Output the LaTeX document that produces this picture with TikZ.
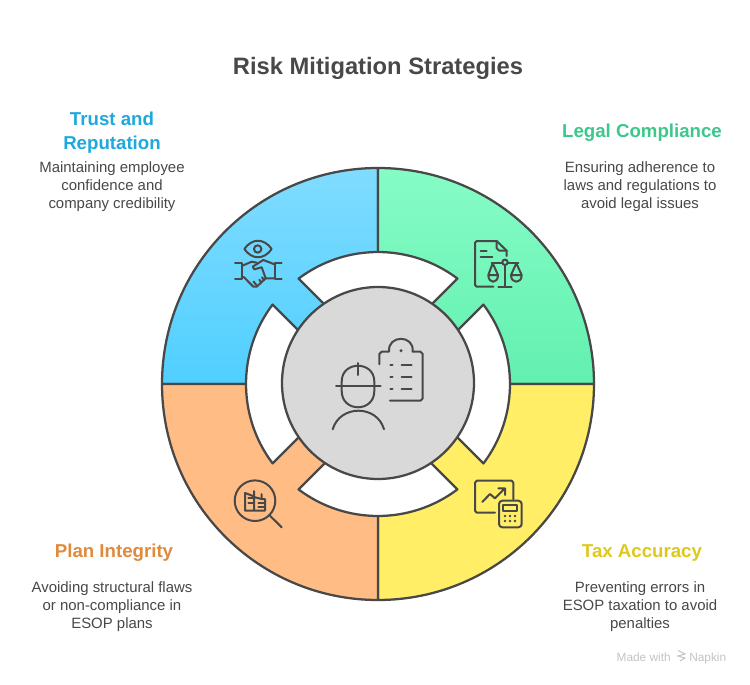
\documentclass[tikz,border=0pt]{standalone}
\usepackage{fontspec}
\setmainfont{Liberation Sans}
\usepackage{tikz}
\definecolor{inkgrey}{RGB}{72,72,72}
\definecolor{hubgrey}{RGB}{217,217,217}
\definecolor{footgrey}{RGB}{196,196,196}
\definecolor{blueA}{RGB}{128,220,255}
\definecolor{blueB}{RGB}{80,207,255}
\definecolor{greenA}{RGB}{134,252,198}
\definecolor{greenB}{RGB}{98,240,176}
\definecolor{orangeA}{RGB}{255,189,133}
\definecolor{yellowA}{RGB}{255,238,102}
\definecolor{trustblue}{RGB}{30,168,222}
\definecolor{legalgreen}{RGB}{60,200,138}
\definecolor{planorange}{RGB}{224,138,60}
\definecolor{taxyellow}{RGB}{222,200,28}
\tikzset{
  ring/.style={draw=inkgrey,line width=1.7pt,line join=round},
  icon/.style={draw=inkgrey,line width=1.5pt,line cap=round,line join=round},
  headline/.style={inner sep=0pt,align=center,font=\fontsize{14}{18}\selectfont\bfseries},
  bodytext/.style={inner sep=0pt,align=center,text=inkgrey,font=\fontsize{11.2}{13.5}\selectfont},
  footer/.style={inner sep=0pt,text=footgrey,font=\fontsize{8.9}{10}\selectfont},
}

\begin{document}
\begin{tikzpicture}[x=0.75pt,y=0.75pt,yscale=-1,xscale=1]
        \useasboundingbox (0,0) rectangle (750,685);
        \fill [white] (0,0) rectangle (750,685);
        % quadrants
        \draw [ring,top color=blueA,middle color=blueA,bottom color=blueB] (378,384) -- (162,384) arc [start angle=180,end angle=270,radius=216] -- cycle;
        \draw [ring,top color=greenA,middle color=greenA,bottom color=greenB] (378,384) -- (378,168) arc [start angle=270,end angle=360,radius=216] -- cycle;
        \draw [ring,fill=yellowA] (378,384) -- (594,384) arc [start angle=0,end angle=90,radius=216] -- cycle;
        \draw [ring,fill=orangeA] (378,384) -- (378,600) arc [start angle=90,end angle=180,radius=216] -- cycle;
        % white bands
        \draw [ring,fill=white] (378,358) -- (298.6,278.6) arc [start angle=233,end angle=307,radius=132] -- cycle;
        \draw [ring,fill=white] (404,384) -- (483.4,304.6) arc [start angle=-37,end angle=37,radius=132] -- cycle;
        \draw [ring,fill=white] (378,410) -- (457.4,489.4) arc [start angle=53,end angle=127,radius=132] -- cycle;
        \draw [ring,fill=white] (352,384) -- (272.6,463.4) arc [start angle=143,end angle=217,radius=132] -- cycle;
        \draw [ring,fill=hubgrey] (378,383) circle [radius=96];
        % hub icon
        \draw [icon] (341.7,381.5) .. controls (341.7,360.5) and (374.3,360.5) .. (374.3,381.5) -- (374.3,391) .. controls (374.3,412.7) and (341.7,412.7) .. (341.7,391) -- cycle;
        \draw [icon] (336,386) -- (380.7,386);
        \draw [icon] (358,363) -- (358,375);
        \draw [icon] (332.7,429.3) .. controls (340,404.5) and (377,404.5) .. (384,429.3);
        \draw [icon] (379.3,364.3) -- (379.3,354) -- (381.7,351.7) -- (389,351.7) .. controls (387.5,334.5) and (414.5,334.5) .. (412.7,351.7) -- (420.5,351.7) -- (422.7,354) -- (422.7,398.5) -- (420.5,400.7) -- (390,400.7);
        \fill [inkgrey] (401,350.7) circle [radius=1.7];
        \draw [icon] (390.3,364.7) -- (392.5,364.7) (401.7,364.7) -- (411.7,364.7) (390.3,376.7) -- (392.5,376.7) (401.7,376.7) -- (411.7,376.7) (390.3,388.7) -- (392.5,388.7) (401.7,388.7) -- (411.7,388.7);
        % eye and handshake icon
        \draw [icon] (244.3,249) .. controls (252,238) and (264,238) .. (271.7,249) .. controls (264,260) and (252,260) .. (244.3,249) -- cycle;
        \draw [icon] (257.7,249) circle [radius=3.7];
        \draw [icon] (235,263.3) -- (241.7,263.3) -- (241.7,279.3) -- (235,279.3) (281.7,263.3) -- (275,263.3) -- (275,279.3) -- (281.7,279.3);
        \draw [icon] (241.7,266) -- (251.7,261.7) -- (256.7,262.7);
        \draw [icon] (275,264.5) -- (263.3,260) -- (252.7,266.7) -- (254.3,269.3) -- (261.7,267.3) -- (265.7,278.3) -- (275,278.3);
        \draw [icon] (241.7,276.7) -- (244,277.3) -- (253.3,286.7) -- (256.7,286.7) -- (265.7,278.3);
        \draw [icon] (256.3,285) -- (253.5,281.5) (261.3,282.3) -- (259.3,279.7) (264,280) -- (262,277.3);
        % document and scales icon
        \draw [icon] (493.3,286.7) -- (476.7,286.7) -- (475,285) -- (475,242.7) -- (476.7,241) -- (496.7,241) -- (506.7,250.7) -- (506.7,256);
        \draw [icon] (496.7,241) -- (496.7,248.3) -- (499.3,250.7) -- (506.7,250.7);
        \draw [icon] (480.7,250.7) -- (486.7,250.7) (480.7,256.7) -- (492.3,256.7);
        \draw [icon] (505,265.7) -- (505,286.7) (498.3,286.7) -- (511.7,286.7);
        \draw [icon] (505,262.3) circle [radius=2.7];
        \draw [icon] (491.7,262.7) -- (501.7,262.7) (508.3,262.7) -- (518.3,262.7);
        \draw [icon] (488.3,275) -- (492.7,263.3) -- (498,275) .. controls (498,284) and (488.3,284) .. (488.3,275) -- cycle (488.3,275) -- (498,275);
        \draw [icon] (511,275) -- (516.3,263.3) -- (521.7,275) .. controls (521.7,284) and (511,284) .. (511,275) -- cycle (511,275) -- (521.7,275);
        % chart and calculator icon
        \draw [icon] (495,512.7) -- (476.7,512.7) -- (475,510.7) -- (475,482.7) -- (476.7,480.7) -- (511.7,480.7) -- (513.3,482.7) -- (513.3,499.3);
        \draw [icon] (482.3,502) -- (490,494) -- (495,498.3) -- (505,488.3) (498.3,488.3) -- (505,488.3) -- (505,495);
        \draw [icon,rounded corners=2.5] (499,500.7) rectangle (521.7,527.3);
        \draw [icon] (503.3,504.7) rectangle (516.7,510.7);
        \fill [inkgrey] (505,516) circle [radius=1.3] (510,516) circle [radius=1.3] (515,516) circle [radius=1.3] (505,521) circle [radius=1.3] (510,521) circle [radius=1.3] (515,521) circle [radius=1.3];
        % magnifier icon
        \draw [icon] (255,500.7) circle [radius=20.3];
        \draw [icon] (270,515.7) -- (281.7,527.3);
        \draw [icon] (245,510.7) -- (245,493) -- (253,496) (254,491) -- (254,510.7) (254,497) -- (261.5,499) -- (261.5,494) (261.5,499) -- (265,499) -- (265,510.7) -- (245,510.7);
        \draw [icon] (248.3,498.3) -- (254,498.3) (248.3,503.3) -- (254,503.3) (258.3,503.3) -- (265,503.3) (258.3,507.3) -- (265,507.3);
        % labels
        \draw (378,68) node (title) [inner sep=0pt,text=inkgrey,font=\fontsize{17.8}{22}\selectfont\bfseries] {Risk Mitigation Strategies};
        \draw (112,133) node (trusthead) [headline,text=trustblue] {Trust and\\Reputation};
        \draw (112,187) node (trustbody) [bodytext] {Maintaining employee\\confidence and\\company credibility};
        \draw (642,133) node (legalhead) [headline,text=legalgreen] {Legal Compliance};
        \draw (640,187) node (legalbody) [bodytext] {Ensuring adherence to\\laws and regulations to\\avoid legal issues};
        \draw (114,553) node (planhead) [headline,text=planorange] {Plan Integrity};
        \draw (112,607) node (planbody) [bodytext] {Avoiding structural flaws\\or non-compliance in\\ESOP plans};
        \draw (642,553) node (taxhead) [headline,text=taxyellow] {Tax Accuracy};
        \draw (640,607) node (taxbody) [bodytext] {Preventing errors in\\ESOP taxation to avoid\\penalties};
        % footer
        \draw (671,661) node (madewith) [footer,anchor=base east] {Made with};
        \draw (689,661) node (napkin) [footer,anchor=base west] {Napkin};
        \draw [footgrey,line width=0.8pt] (678,650.5) -- (685,654) -- (678,656) -- (685,658) -- (680,661);
\end{tikzpicture}
\end{document}
